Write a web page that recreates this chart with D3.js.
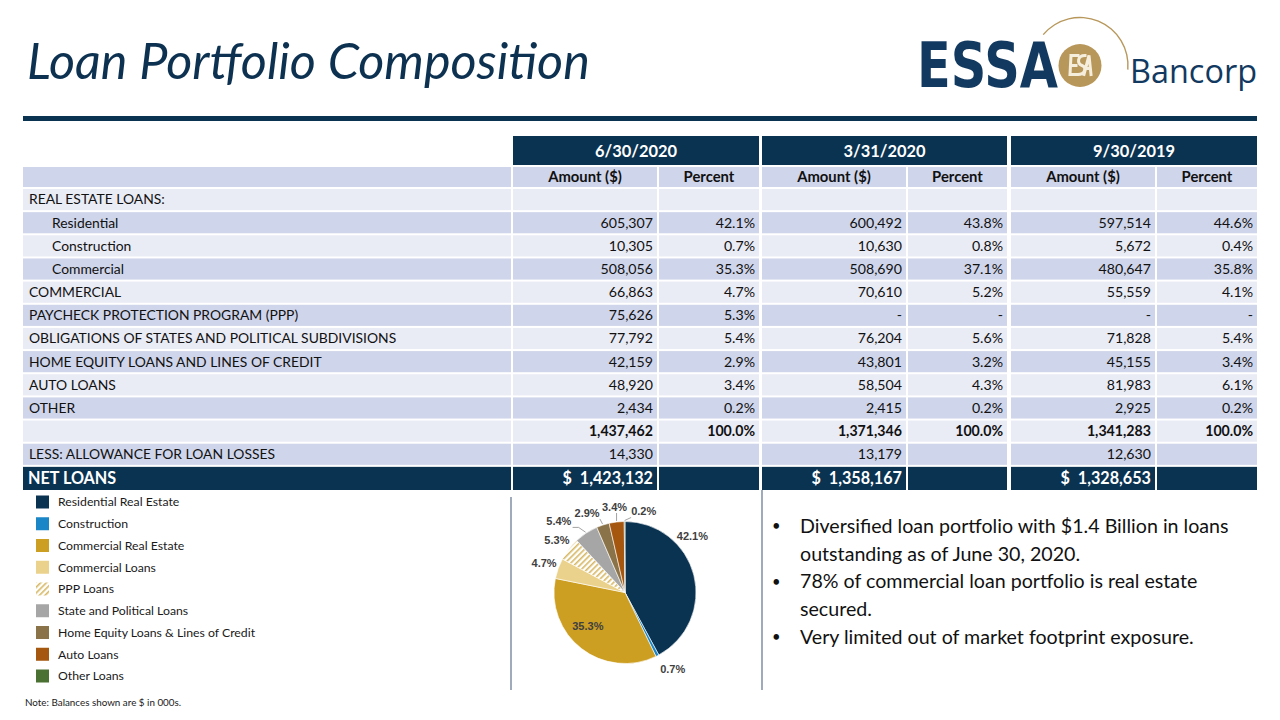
<!DOCTYPE html>
<html><head><meta charset="utf-8">
<script src="https://cdn.jsdelivr.net/npm/d3@7"></script>
<style>body{margin:0;background:#fff}svg{display:block}</style>
</head><body>
<svg id="c" width="1280" height="720"></svg>
<script>
// ---------------- DATA ----------------
const periods = ["6/30/2020", "3/31/2020", "9/30/2019"];
const subHeaders = ["Amount ($)", "Percent"];
const rowLabels = ["REAL ESTATE LOANS:", "Residential", "Construction", "Commercial", "COMMERCIAL",
  "PAYCHECK PROTECTION PROGRAM (PPP)", "OBLIGATIONS OF STATES AND POLITICAL SUBDIVISIONS",
  "HOME EQUITY LOANS AND LINES OF CREDIT", "AUTO LOANS", "OTHER", "", "LESS: ALLOWANCE FOR LOAN LOSSES"];
const rowIndented = [false, true, true, true, false, false, false, false, false, false, false, false];
const rowBold = [false, false, false, false, false, false, false, false, false, false, true, false];
// null = blank cell, "-" = dash
const amountJun2020 = [null, 605307, 10305, 508056, 66863, 75626, 77792, 42159, 48920, 2434, 1437462, 14330];
const amountMar2020 = [null, 600492, 10630, 508690, 70610, "-", 76204, 43801, 58504, 2415, 1371346, 13179];
const amountSep2019 = [null, 597514, 5672, 480647, 55559, "-", 71828, 45155, 81983, 2925, 1341283, 12630];
const percentJun2020 = [null, 42.1, 0.7, 35.3, 4.7, 5.3, 5.4, 2.9, 3.4, 0.2, 100.0, null];
const percentMar2020 = [null, 43.8, 0.8, 37.1, 5.2, "-", 5.6, 3.2, 4.3, 0.2, 100.0, null];
const percentSep2019 = [null, 44.6, 0.4, 35.8, 4.1, "-", 5.4, 3.4, 6.1, 0.2, 100.0, null];
const netLoans = [1423132, 1358167, 1328653];

const pieCategories = ["Residential Real Estate", "Construction", "Commercial Real Estate", "Commercial Loans",
  "PPP Loans", "State and Political Loans", "Home Equity Loans & Lines of Credit", "Auto Loans", "Other Loans"];
const pieValues = [605307, 10305, 508056, 66863, 75626, 77792, 42159, 48920, 2434];
const piePercents = [42.1, 0.7, 35.3, 4.7, 5.3, 5.4, 2.9, 3.4, 0.2];

const bulletLines = [
  ["Diversified loan portfolio with $1.4 Billion in loans", "outstanding as of June 30, 2020."],
  ["78% of commercial loan portfolio is real estate", "secured."],
  ["Very limited out of market footprint exposure."]
];
const titleText = "Loan Portfolio Composition";
const noteText = "Note: Balances shown are $ in 000s.";

// ---------------- STYLE / LAYOUT ----------------
const NAVY = "#0a3352";
const GOLD = "#b8975a";
const ROW_DARK = "#cfd5ea", ROW_LIGHT = "#e9ebf5";
const FONT = "Lato, 'Open Sans', sans-serif";
const pieColors = ["#0a3352", "#1a86c8", "#cc9e22", "#ebd28c", "url(#ppp)", "#a6a6a6", "#8b7349", "#a5570f", "#4a7131"];
// label placement (angle deg clockwise from north, radius) ; null = centroid default
const pieLabelPlace = [[50, 88], [148, 90], [228, 50], null, null, [317, 97], [334.5, 88], [353, 86], [13, 83]];
const pieLeader = [false, false, false, false, false, true, true, true, true];

const svg = d3.select("#c");
const defs = svg.append("defs");
const pat = defs.append("pattern").attr("id", "ppp").attr("patternUnits", "userSpaceOnUse")
  .attr("width", 4).attr("height", 4).attr("patternTransform", "rotate(45)");
pat.append("rect").attr("width", 4).attr("height", 4).attr("fill", "#fff");
pat.append("rect").attr("width", 1.6).attr("height", 4).attr("fill", "#d8b865");

function fitSize(text, base, target, weight, style) {
  const t = svg.append("text").attr("font-family", FONT).attr("font-size", base)
    .attr("font-weight", weight || "normal").attr("font-style", style || "normal").text(text);
  const w = t.node().getComputedTextLength(); t.remove();
  return base * target / w;
}

// ---------------- TITLE + LOGO ----------------
const titleSize = fitSize(titleText, 46, 563, "normal", "italic");
svg.append("text").attr("x", 27).attr("y", 79).attr("font-family", FONT).attr("font-style", "italic")
  .attr("font-size", titleSize).attr("fill", "#0d3150").text(titleText);
svg.append("rect").attr("x", 23).attr("y", 116).attr("width", 1234).attr("height", 5).attr("fill", NAVY);

const logo = svg.append("g");
const arcG = d3.arc();
logo.append("path").attr("transform", "translate(1080,65.5)")
  .attr("d", arcG({innerRadius: 47.3, outerRadius: 48.7, startAngle: -50 * Math.PI / 180, endAngle: 95 * Math.PI / 180}))
  .attr("fill", GOLD);
logo.append("text").attr("x", 917).attr("y", 87).attr("font-family", "'DejaVu Sans', sans-serif")
  .attr("font-weight", "bold").attr("font-size", 62).attr("textLength", 141).attr("lengthAdjust", "spacingAndGlyphs")
  .attr("fill", "#12395f").text("ESSA");
logo.append("circle").attr("cx", 1080).attr("cy", 65.5).attr("r", 21.5).attr("fill", GOLD);
// monogram inside the gold circle
const mono = logo.append("g").attr("transform", "translate(1080,65.5)").attr("fill", "none")
  .attr("stroke", "#f6eedc").attr("stroke-width", 3).attr("stroke-linecap", "square");
mono.append("path").attr("d", "M-9,-10 H-2 M-9,-10 L-10,9 H-3 M-9,0 H-4");
mono.append("path").attr("d", "M5,-10 C-3,-10 -3,-2 2,0 C7,2 5,9 -2,9");
mono.append("path").attr("d", "M4,9 L9,-10 L11,9 M6,3 H10");
logo.append("text").attr("x", 1130).attr("y", 83).attr("font-family", "'Open Sans', sans-serif")
  .attr("font-size", 33).attr("textLength", 127).attr("lengthAdjust", "spacingAndGlyphs")
  .attr("fill", "#12395f").text("Bancorp");

// ---------------- TABLE ----------------
const tableSize = fitSize("OBLIGATIONS OF STATES AND POLITICAL SUBDIVISIONS", 14, 357);
const colEdges = [[23, 511], [513, 657], [659, 759], [762, 906], [908, 1007], [1011, 1155], [1157, 1257]];
const groupEdges = [[513, 759], [762, 1007], [1011, 1257]];
const amountCols = [amountJun2020, amountMar2020, amountSep2019];
const percentCols = [percentJun2020, percentMar2020, percentSep2019];
const nRows = rowLabels.length + 1; // + net loans
const y = d3.scaleBand().domain(d3.range(nRows)).range([189, 189 + nRows * 23]).paddingInner(2 / 23);
const fmt = d3.format(",");
const fmtPct = v => v.toFixed(1) + "%";

const tg = svg.append("g");
groupEdges.forEach((e, i) => {
  tg.append("rect").attr("x", e[0]).attr("y", 136).attr("width", e[1] - e[0]).attr("height", 29).attr("fill", NAVY);
  tg.append("text").attr("x", (e[0] + e[1]) / 2).attr("y", 151).attr("dy", "0.35em").attr("text-anchor", "middle")
    .attr("font-family", FONT).attr("font-weight", "bold").attr("font-size", tableSize * 1.22).attr("fill", "#fff")
    .text(periods[i]);
});
colEdges.forEach((e, i) => {
  tg.append("rect").attr("x", e[0]).attr("y", 167).attr("width", e[1] - e[0]).attr("height", 20).attr("fill", ROW_DARK);
  if (i > 0) tg.append("text").attr("x", (e[0] + e[1]) / 2).attr("y", 177).attr("dy", "0.35em").attr("text-anchor", "middle")
    .attr("font-family", FONT).attr("font-weight", "bold").attr("font-size", tableSize * 1.1).attr("fill", "#111")
    .text(subHeaders[(i - 1) % 2]);
});
rowLabels.forEach((lab, r) => {
  const fill = r % 2 === 0 ? ROW_LIGHT : ROW_DARK;
  const yy = y(r), h = y.bandwidth(), cy = yy + h / 2;
  colEdges.forEach(e => tg.append("rect").attr("x", e[0]).attr("y", yy).attr("width", e[1] - e[0]).attr("height", h).attr("fill", fill));
  const fw = rowBold[r] ? "bold" : "normal";
  tg.append("text").attr("x", rowIndented[r] ? 52 : 29).attr("y", cy).attr("dy", "0.35em")
    .attr("font-family", FONT).attr("font-size", tableSize * 1.03).attr("fill", "#111").text(lab);
  for (let p = 0; p < 3; p++) {
    const a = amountCols[p][r], pc = percentCols[p][r];
    const ae = colEdges[1 + p * 2], pe = colEdges[2 + p * 2];
    if (a !== null) tg.append("text").attr("x", ae[1] - 4).attr("y", cy).attr("dy", "0.35em").attr("text-anchor", "end")
      .attr("font-family", FONT).attr("font-weight", fw).attr("font-size", tableSize * 1.05).attr("fill", "#111")
      .text(a === "-" ? "-" : fmt(a));
    if (pc !== null) tg.append("text").attr("x", pe[1] - 4).attr("y", cy).attr("dy", "0.35em").attr("text-anchor", "end")
      .attr("font-family", FONT).attr("font-weight", fw).attr("font-size", tableSize * 1.05).attr("fill", "#111")
      .text(pc === "-" ? "-" : fmtPct(pc));
  }
});
{
  const r = nRows - 1, yy = y(r), h = y.bandwidth() + 2, cy = yy + h / 2;
  colEdges.forEach(e => tg.append("rect").attr("x", e[0]).attr("y", yy).attr("width", e[1] - e[0]).attr("height", h).attr("fill", NAVY));
  tg.append("text").attr("x", 28).attr("y", cy).attr("dy", "0.35em").attr("font-family", FONT)
    .attr("font-weight", "bold").attr("font-size", tableSize * 1.2).attr("fill", "#fff").text("NET LOANS");
  netLoans.forEach((v, p) => {
    const ae = colEdges[1 + p * 2];
    tg.append("text").attr("x", ae[1] - 4).attr("y", cy).attr("dy", "0.35em").attr("text-anchor", "end")
      .attr("font-family", FONT).attr("font-weight", "bold").attr("font-size", tableSize * 1.2).attr("fill", "#fff")
      .attr("xml:space", "preserve").text("$  " + fmt(v));
  });
}

svg.append("line").attr("x1", 511).attr("x2", 511).attr("y1", 497).attr("y2", 690).attr("stroke", "#7f8fa3").attr("stroke-width", 1.5);
svg.append("line").attr("x1", 762).attr("x2", 762).attr("y1", 490).attr("y2", 690).attr("stroke", "#7f8fa3").attr("stroke-width", 1.5);

// ---------------- LEGEND ----------------
const ly = d3.scalePoint().domain(d3.range(pieCategories.length)).range([502, 676]);
const lg = svg.append("g");
pieCategories.forEach((c, i) => {
  lg.append("rect").attr("x", 36).attr("y", ly(i) - 6.5).attr("width", 13).attr("height", 13).attr("fill", pieColors[i]);
  lg.append("text").attr("x", 58).attr("y", ly(i)).attr("dy", "0.35em").attr("font-family", FONT)
    .attr("font-size", tableSize * 0.91).attr("fill", "#1a1a1a").text(c);
});
svg.append("text").attr("x", 25).attr("y", 703).attr("dy", "0.35em").attr("font-family", FONT)
  .attr("font-size", tableSize * 0.73).attr("fill", "#1a1a1a").text(noteText);

// ---------------- PIE ----------------
const cx = 625, cyP = 592.5, R = 71;
const pieG = svg.append("g").attr("transform", `translate(${cx},${cyP})`);
const arcs = d3.pie().sort(null).value(d => d)(pieValues);
const arc = d3.arc().innerRadius(0).outerRadius(R);
pieG.selectAll("path.s").data(arcs).join("path").attr("class", "s").attr("d", arc)
  .attr("fill", (d, i) => pieColors[i]).attr("stroke", "#fff").attr("stroke-width", 0.6);
const polar = (deg, r) => [r * Math.sin(deg * Math.PI / 180), -r * Math.cos(deg * Math.PI / 180)];
arcs.forEach((d, i) => {
  const mid = (d.startAngle + d.endAngle) / 2 * 180 / Math.PI;
  const pl = pieLabelPlace[i] || [mid, 86];
  const [lx, lyy] = polar(pl[0], pl[1]);
  const t = pieG.append("text").attr("x", lx).attr("y", lyy).attr("dy", "0.35em").attr("text-anchor", "middle")
    .attr("font-family", "'Liberation Sans', Arial, sans-serif").attr("font-weight", "bold").attr("font-size", 11)
    .attr("fill", "#404040").text(piePercents[i].toFixed(1) + "%");
  if (pieLeader[i]) {
    const bb = t.node().getBBox();
    const [sx, sy] = polar(mid, R + 1);
    const ex = Math.max(bb.x, Math.min(sx, bb.x + bb.width));
    const ey = Math.max(bb.y, Math.min(sy, bb.y + bb.height));
    const pts = Math.abs(ex - sx) > 4 && Math.abs(ey - sy) > 4 ? [[sx, sy], [sx, ey], [ex, ey]] : [[sx, sy], [ex, ey]];
    if (i === 5) pts.splice(0, pts.length, [sx, sy], [sx - 7, ey], [ex + 1, ey]);
    pieG.append("path").attr("d", d3.line()(pts)).attr("fill", "none").attr("stroke", "#8c8c8c").attr("stroke-width", 0.8);
  }
});

// ---------------- BULLETS ----------------
const bulletSize = fitSize(bulletLines[0][0], 20, 429);
const bg = svg.append("g");
let line = 0;
const by = d3.scaleLinear().domain([0, 4]).range([526, 637]);
bulletLines.forEach(b => {
  bg.append("text").attr("x", 772).attr("y", by(line)).attr("dy", "0.35em").attr("font-family", FONT)
    .attr("font-size", bulletSize * 0.75).attr("fill", "#111").text("•");
  b.forEach(l => {
    bg.append("text").attr("x", 800).attr("y", by(line)).attr("dy", "0.35em").attr("font-family", FONT)
      .attr("font-size", bulletSize).attr("fill", "#111").text(l);
    line++;
  });
});
</script>
</body></html>
